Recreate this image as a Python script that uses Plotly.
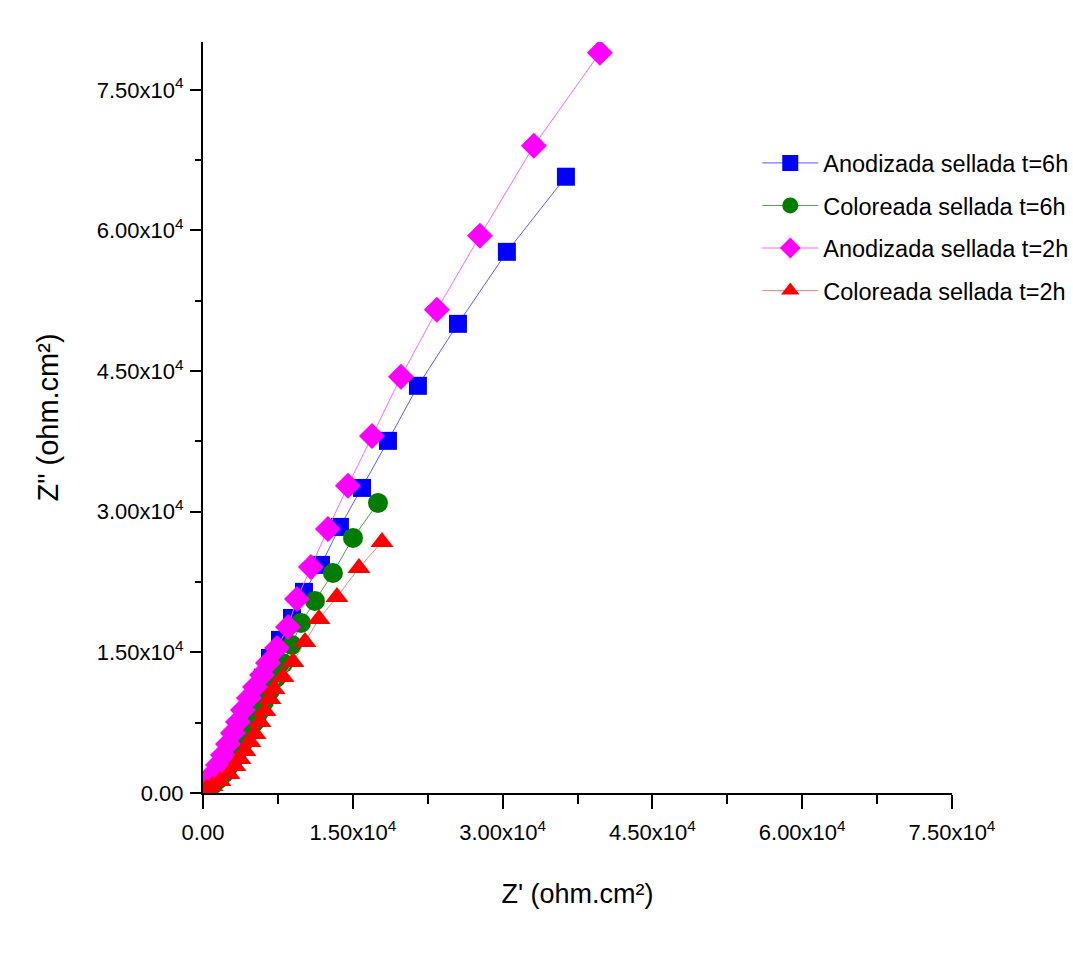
import plotly.graph_objects as go

# Anodizada sellada t=6h
anod6_x = [36340, 30430, 25530, 21520, 18520, 15920, 13710, 11810, 10110, 8910, 7710, 6710,
           6000, 5300, 4700, 4200, 3500, 3000, 2500, 2000, 1500, 1100, 800, 500, 300]
anod6_y = [65730, 57720, 50040, 43430, 37560, 32540, 28380, 24330, 21450, 18670, 16330, 14400,
           12300, 10300, 8700, 7600, 6200, 5000, 3900, 2900, 2100, 1600, 1200, 900, 700]

# Coloreada sellada t=6h
col6_x = [17520, 15020, 13010, 11210, 9810, 8910, 8040, 7310, 6700, 6100, 5600, 5100, 4600,
          4100, 3600, 3100, 2600, 2100, 1600, 1100, 700, 400, 200]
col6_y = [30940, 27210, 23470, 20490, 18140, 15790, 13840, 12270, 10900, 9700, 8600, 7500, 6500,
          5500, 4600, 3700, 2900, 2100, 1500, 1000, 600, 400, 250]

# Anodizada sellada t=2h
anod2_x = [39740, 33130, 27730, 23420, 19820, 16920, 14510, 12510, 10810, 9410, 8510, 7410,
           6510, 5910, 5210, 4600, 4000, 3500, 3000, 2500, 2000, 1500, 1000, 600, 300]
anod2_y = [78960, 69030, 59430, 51530, 44390, 38090, 32760, 28170, 24110, 20700, 17710, 15470,
           13870, 12590, 11310, 10140, 8860, 7580, 6400, 5230, 4050, 2990, 2030, 1390, 850]

# Coloreada sellada t=2h
col2_x = [17920, 15620, 13410, 11610, 10210, 9010, 8010, 7110, 6710, 6210, 5710, 5210, 4700,
          4200, 3700, 3200, 2600, 1700, 900, 400, 200]
col2_y = [26780, 24010, 20910, 18570, 16110, 13980, 12380, 11100, 10030, 8750, 7580, 6300, 5440,
          4480, 3630, 2880, 2030, 1280, 750, 430, 300]

names = ["Anodizada sellada t=6h", "Coloreada sellada t=6h",
         "Anodizada sellada t=2h", "Coloreada sellada t=2h"]

tick_vals = [0, 15000, 30000, 45000, 60000, 75000]
tick_text = ["0.00", "1.50x10<sup>4</sup>", "3.00x10<sup>4</sup>", "4.50x10<sup>4</sup>",
             "6.00x10<sup>4</sup>", "7.50x10<sup>4</sup>"]

series = [
    (anod6_x, anod6_y, names[0], "#0000ff", "#5a5aff", "square", 18),
    (col6_x, col6_y, names[1], "#007d00", "#4f9f4f", "circle", 20),
    (anod2_x, anod2_y, names[2], "#ff00ff", "#ff66ff", "diamond", 20),
    (col2_x, col2_y, names[3], "#ff0000", "#ff8080", "triangle-up", 20),
]

fig = go.Figure()
for i, (xs, ys, nm, mc, lc, sym, sz) in enumerate(series):
    fig.add_trace(go.Scatter(
        x=xs, y=ys, name=nm, mode="lines+markers",
        line=dict(color=lc, width=1),
        marker=dict(symbol=sym, size=sz, color=mc, line=dict(width=0)),
        legendgroup=f"g{i}",
    ))

font_family = "Arial, Liberation Sans, sans-serif"

fig.update_layout(
    width=1073, height=959,
    margin=dict(l=203, r=121, t=42, b=166, autoexpand=False),
    paper_bgcolor="white", plot_bgcolor="white",
    font=dict(family=font_family, color="black"),
    showlegend=True,
    legend=dict(
        x=0.740, y=0.868, xanchor="left", yanchor="top",
        font=dict(size=23.5, family=font_family),
        bgcolor="rgba(0,0,0,0)", itemwidth=56,
        traceorder="grouped", tracegroupgap=9,
    ),
    xaxis=dict(
        range=[0, 75000], tickvals=tick_vals, ticktext=tick_text,
        showgrid=False, zeroline=False, showline=True, linecolor="black", linewidth=2,
        ticks="outside", ticklen=14, tickwidth=2, tickcolor="black",
        tickfont=dict(size=22), ticklabelstandoff=5,
        minor=dict(dtick=7500, tick0=0, ticks="outside", ticklen=9, tickwidth=2, tickcolor="black"),
        title=dict(text="Z' (ohm.cm²)", font=dict(size=27), standoff=40),
    ),
    yaxis=dict(
        range=[0, 80100], tickvals=tick_vals, ticktext=tick_text,
        showgrid=False, zeroline=False, showline=True, linecolor="black", linewidth=2,
        ticks="outside", ticklen=11, tickwidth=2, tickcolor="black",
        tickfont=dict(size=22), ticklabelstandoff=2,
        minor=dict(dtick=7500, tick0=0, ticks="outside", ticklen=6, tickwidth=2, tickcolor="black"),
        title=dict(text='Z" (ohm.cm²)', font=dict(size=29), standoff=30),
    ),
)

fig.write_html("out.html")
